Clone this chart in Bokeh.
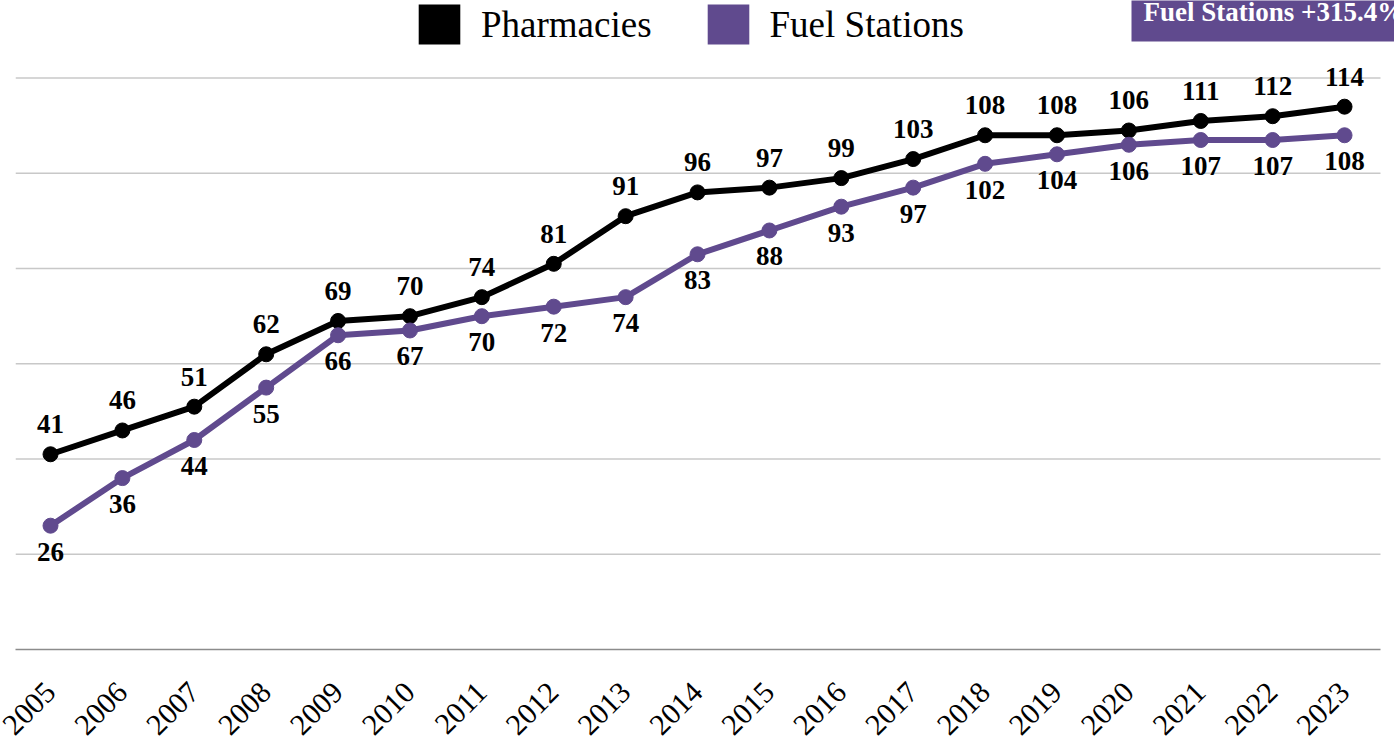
from bokeh.plotting import figure
from bokeh.models import (FixedTicker, Legend, LegendItem, Label, Range1d,
                          ColumnDataSource)
from bokeh.core.properties import value
from bokeh.embed import file_html
from bokeh.resources import INLINE

years = list(range(2005, 2024))
pharmacies = [41, 46, 51, 62, 69, 70, 74, 81, 91, 96, 97, 99, 103, 108, 108, 109, 111, 112, 114]
pharmacy_labels = ["41", "46", "51", "62", "69", "70", "74", "81", "91", "96", "97", "99",
                   "103", "108", "108", "106", "111", "112", "114"]
fuel = [26, 36, 44, 55, 66, 67, 70, 72, 74, 83, 88, 93, 97, 102, 104, 106, 107, 107, 108]
fuel_labels = [str(v) for v in fuel]
grid_ticks = [20, 40, 60, 80, 100, 120]
note_text = "Fuel Stations +315.4%"

BLACK = "#000000"
PURPLE = "#604A8E"
FONT = "Liberation Serif"

# visible extent of the x axis / grid (in year units), frame runs to the canvas edge
X_START, X_AXIS_END, X_END = 2004.513, 2023.5, 2023.695

p = figure(width=1394, height=746, x_range=Range1d(X_START, X_END),
           y_range=Range1d(0, 136.3), output_backend="svg", toolbar_location=None,
           min_border_left=15, min_border_right=0, min_border_top=0,
           min_border_bottom=96)
p.outline_line_color = None
p.yaxis.visible = False
p.xgrid.grid_line_color = None
p.ygrid.grid_line_color = None

# horizontal grid lines limited to the axis extent
p.segment(x0=[X_START] * len(grid_ticks), x1=[X_AXIS_END] * len(grid_ticks),
          y0=grid_ticks, y1=grid_ticks, line_color="#c8c8c8", line_width=1.5)

ax = p.xaxis[0]
ax.ticker = FixedTicker(ticks=years)
ax.bounds = (X_START, X_AXIS_END)
ax.axis_line_color = "#8c8c8c"
ax.axis_line_width = 1.5
ax.major_tick_line_color = None
ax.minor_tick_line_color = None
ax.major_label_orientation = 0.7853981633974483
ax.major_label_text_font = FONT
ax.major_label_text_font_size = "30px"
ax.major_label_text_color = "#000000"
ax.major_label_standoff = 32

src = ColumnDataSource(dict(x=years, ph=pharmacies, fu=fuel,
                            phl=pharmacy_labels, ful=fuel_labels))

p.line("x", "ph", source=src, line_color=BLACK, line_width=6)
p.scatter("x", "ph", source=src, size=15, fill_color=BLACK, line_color=BLACK)
p.line("x", "fu", source=src, line_color=PURPLE, line_width=6)
p.scatter("x", "fu", source=src, size=15, fill_color=PURPLE, line_color=PURPLE)

p.text("x", "ph", text="phl", source=src, y_offset=-30, text_align="center",
       text_baseline="middle", text_font=value(FONT), text_font_style="bold",
       text_font_size="27px", text_color=BLACK)
p.text("x", "fu", text="ful", source=src, y_offset=26, text_align="center",
       text_baseline="middle", text_font=value(FONT), text_font_style="bold",
       text_font_size="27px", text_color=BLACK)

nan = float("nan")
r1 = p.quad(left=[nan], right=[nan], top=[nan], bottom=[nan], fill_color=BLACK, line_color=None)
r2 = p.quad(left=[nan], right=[nan], top=[nan], bottom=[nan], fill_color=PURPLE, line_color=None)
legend = Legend(items=[LegendItem(label="Pharmacies", renderers=[r1]),
                       LegendItem(label="Fuel Stations", renderers=[r2])],
                orientation="horizontal", location=(398, 600),
                glyph_width=52, glyph_height=50, label_text_font=FONT,
                label_text_font_size="37px", label_text_color="#000000",
                spacing=50, label_standoff=16, padding=0, margin=0,
                border_line_color=None, background_fill_alpha=0)
p.add_layout(legend, "center")

note = Label(x=1116, y=665, x_units="screen", y_units="screen", text=note_text,
             text_baseline="top", text_font=FONT, text_font_style="bold",
             text_font_size="27px", text_color="#ffffff",
             background_fill_color=PURPLE,
             padding=dict(left=12, right=12, top=12, bottom=15))
p.add_layout(note)

open("out.html", "w").write(file_html(p, INLINE))
